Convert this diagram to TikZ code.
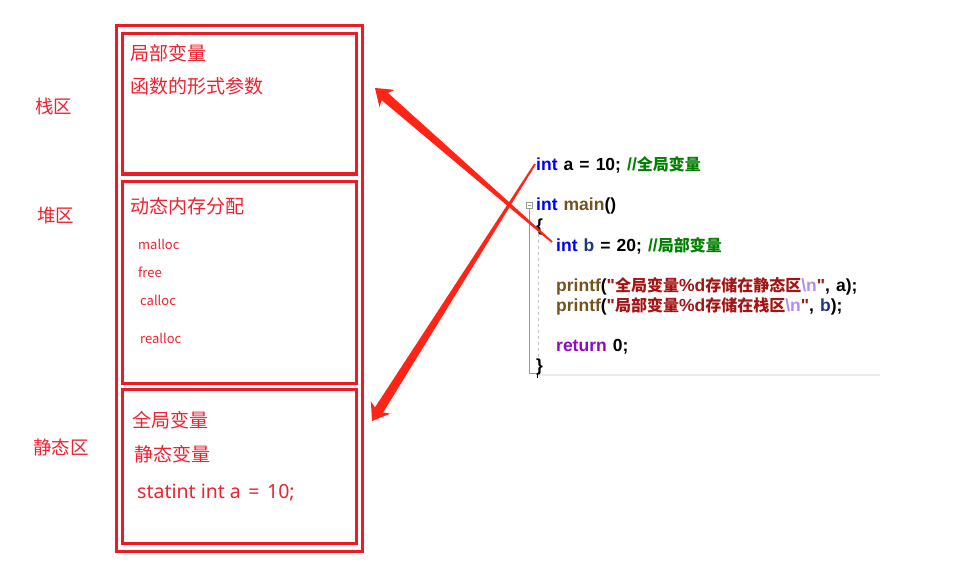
\documentclass[tikz,border=0pt]{standalone}
\usepackage{fontspec}
\usetikzlibrary{calc}
\newfontfamily\cjk{Noto Sans CJK SC}
\newfontfamily\latinsans{Noto Sans}
\newfontfamily\codefont{Liberation Sans}[WordSpace=1.25]
\definecolor{boxred}{HTML}{ED1C24}
\definecolor{txtred}{HTML}{EE2230}
\definecolor{arrred}{HTML}{FF2415}
\definecolor{kw}{HTML}{0000FF}
\definecolor{cm}{HTML}{008000}
\definecolor{fn}{HTML}{74531F}
\definecolor{str}{HTML}{A31515}
\definecolor{esc}{HTML}{B48CF0}
\definecolor{ret}{HTML}{8F08C4}
\definecolor{var}{HTML}{1F377F}
\newcommand\zb[1]{{\cjk\bfseries\fontsize{16}{16}\selectfont #1}}
\begin{document}
\begin{tikzpicture}[x=1pt,y=-1pt,
  box/.style={draw=boxred, line width=3pt, inner sep=0pt, fill=none},
  side/.style={font=\cjk\fontsize{18.5}{20}\selectfont, text=txtred, anchor=west, inner sep=0pt},
  big/.style={font=\cjk\fontsize{19}{20}\selectfont, text=txtred, anchor=west, inner sep=0pt},
  small/.style={font=\cjk\fontsize{13}{14}\selectfont, text=txtred, anchor=west, inner sep=0pt},
  code/.style={font=\codefont\bfseries\fontsize{17.5}{20}\selectfont, anchor=base west, inner sep=0pt},
  gutter/.style={draw=gray!80, line width=0.8pt}]
\useasboundingbox (0,0) rectangle (972,567);
\fill[white] (0,0) rectangle (972,567);

% boxes
\node[box, minimum width=246pt, minimum height=525pt] (outer) at (239,288.5) {};
\node[box, minimum width=234pt, minimum height=140pt] (stack) at (239.5,104) {};
\node[box, minimum width=234pt, minimum height=202pt] (heap) at (239.5,282) {};
\node[box, minimum width=234pt, minimum height=154pt] (static) at (239.5,466) {};

% side labels
\node[side] (lstack) at (35,106) {栈区};
\node[side] (lheap) at (37,215.5) {堆区};
\node[side] (lstatic) at (33,447) {静态区};

% box contents
\node[big] (s1) at (130,53) {局部变量};
\node[big] (s2) at (130,86) {函数的形式参数};
\node[big] (h1) at (130,206.5) {动态内存分配};
\node[small] (h2) at (138,244) {malloc};
\node[small] (h3) at (138,272) {free};
\node[small] (h4) at (140,300) {calloc};
\node[small] (h5) at (140,338) {realloc};
\node[big] (g1) at (132,420.5) {全局变量};
\node[big] (g2) at (134,454.5) {静态变量};
\node[big, font=\latinsans\fontsize{19.5}{20}\selectfont] (g3) at (137,493) {statint int a\hspace{2.5pt} = \hspace{2.5pt}10;};

% code gutter
\draw[gutter] (526.5,202.5) rectangle (532.5,208.5);
\draw[gutter] (528,205.5) -- (531,205.5);
\draw[gutter] (529.5,208.5) -- (529.5,373) -- (536,373);
\draw[draw=gray!45, line width=0.8pt, dash pattern=on 3pt off 3pt] (538,222) -- (538,364);
\draw[draw=black!8, line width=2pt] (537,375) -- (880,375);
\draw[black, line width=1pt] (537,373) -- (537,378);

% code lines
\node[code] (c0) at (536,171) {\textcolor{kw}{int} a = 10; \textcolor{cm}{//\zb{全局变量}}};
\node[code] (c2) at (536,211) {\textcolor{kw}{int} \textcolor{fn}{main}()};
\node[code] (c3) at (536,231) {\{};
\node[code] (c4) at (556,251) {\textcolor{kw}{int} \textcolor{var}{b} = 20; \textcolor{cm}{//\zb{局部变量}}};
\node[code] (c6) at (556,291) {\textcolor{fn}{printf}(\textcolor{str}{"\zb{全局变量}\%d\zb{存储在静态区}}\textcolor{esc}{\textbackslash n}\textcolor{str}{"}, a);};
\node[code] (c7) at (556,311) {\textcolor{fn}{printf}(\textcolor{str}{"\zb{局部变量}\%d\zb{存储在栈区}}\textcolor{esc}{\textbackslash n}\textcolor{str}{"}, \textcolor{var}{b});};
\node[code] (c9) at (556,351) {\textcolor{ret}{return} 0;};
\node[code] (c10) at (536,371) {\}};

% arrows
\coordinate (t1) at (552,242);
\coordinate (p1) at (375,88);
\coordinate (t2) at (535,164);
\coordinate (p2) at (372,421);
\foreach \t/\p in {t1/p1, t2/p2}{
  \coordinate (bj) at ($(\p)!13pt!(\t)$);
  \coordinate (bb) at ($(\p)!16pt!(\t)$);
  \fill[arrred] ($(\t)!0.9pt!90:(\p)$) -- ($(bj)!4.8pt!-90:(\t)$) -- ($(bb)!11.5pt!-90:(\t)$) -- (\p)
     -- ($(bb)!11.5pt!90:(\t)$) -- ($(bj)!4.8pt!90:(\t)$) -- ($(\t)!0.9pt!-90:(\p)$) -- cycle;
}
\end{tikzpicture}
\end{document}
